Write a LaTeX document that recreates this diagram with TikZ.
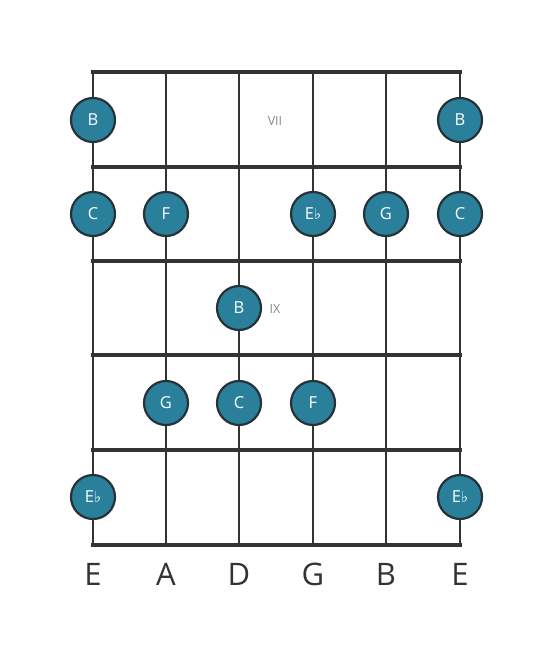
\documentclass[tikz,border=0pt]{standalone}
\usepackage{fontspec}
\setmainfont{Open Sans}
\newfontfamily\symfont{DejaVu Sans}
\definecolor{linec}{HTML}{333333}
\definecolor{notefill}{HTML}{2A7F9A}
\definecolor{noteedge}{HTML}{263238}
\definecolor{fretlbl}{HTML}{888888}
\newcommand{\flt}{{\symfont\fontsize{15pt}{15pt}\selectfont ♭}}
\begin{document}
\begin{tikzpicture}[x=1pt,y=-1pt,
  stringline/.style={draw=linec,line width=2.4pt},
  fretline/.style={draw=linec,line width=4.8pt},
  note/.style={circle,fill=notefill,draw=noteedge,line width=2.2pt,minimum size=44pt,inner sep=0pt,text=white,font=\fontsize{16.5pt}{16.5pt}\selectfont},
  strlbl/.style={text=linec,font=\fontsize{31pt}{31pt}\selectfont},
  frlbl/.style={text=fretlbl,font=\fontsize{12.5pt}{12.5pt}\selectfont}]
\useasboundingbox (0,0) rectangle (553,656);
% string coordinates
\foreach \i/\x in {1/93,2/166,3/239,4/313,5/386,6/460}{
  \coordinate (st\i) at (\x,72);
  \coordinate (sb\i) at (\x,545);
  \draw[stringline] (st\i) -- (sb\i);
}
\foreach \j/\y in {0/72,1/167,2/261,3/355,4/450,5/545}{
  \coordinate (fl\j) at (93,\y);
  \coordinate (fr\j) at (460,\y);
  \draw[fretline,line cap=rect] (fl\j) -- (fr\j);
}
% fret labels
\node[frlbl] (vii) at (275,121) {VII};
\node[frlbl] (ix) at (275,309) {IX};
% notes
\node[note] (n1) at (93,120) {B};
\node[note] (n2) at (460,120) {B};
\node[note] (n3) at (93,214) {C};
\node[note] (n4) at (166,214) {F};
\node[note] (n5) at (313,214) {E\flt};
\node[note] (n6) at (386,214) {G};
\node[note] (n7) at (460,214) {C};
\node[note] (n8) at (239,308) {B};
\node[note] (n9) at (166,403) {G};
\node[note] (n10) at (239,403) {C};
\node[note] (n11) at (313,403) {F};
\node[note] (n12) at (93,497) {E\flt};
\node[note] (n13) at (460,497) {E\flt};
% string labels
\node[strlbl] (l1) at (93,574) {E};
\node[strlbl] (l2) at (166,574) {A};
\node[strlbl] (l3) at (239,574) {D};
\node[strlbl] (l4) at (313,574) {G};
\node[strlbl] (l5) at (386,574) {B};
\node[strlbl] (l6) at (460,574) {E};
\end{tikzpicture}
\end{document}
